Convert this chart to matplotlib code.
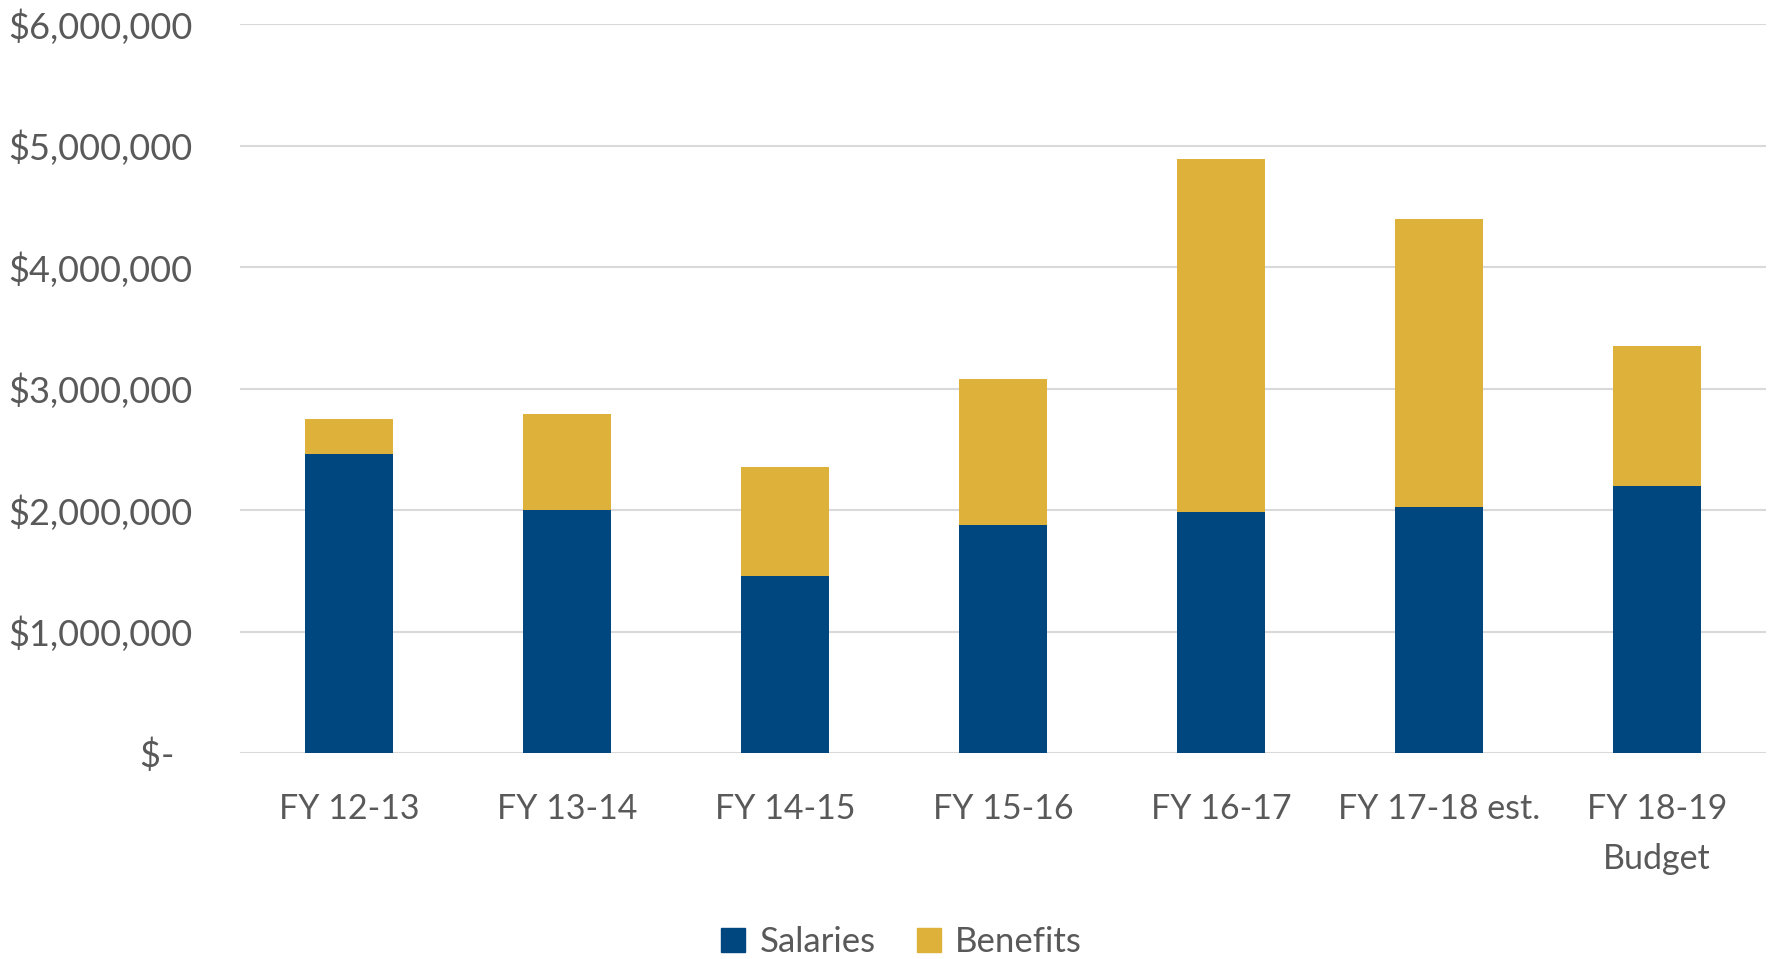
import matplotlib
matplotlib.use("Agg")
import matplotlib.pyplot as plt
from matplotlib.ticker import FixedLocator
from matplotlib.patches import Patch

categories = ["FY 12-13", "FY 13-14", "FY 14-15", "FY 15-16", "FY 16-17",
              "FY 17-18 est.", "FY 18-19\nBudget"]
salaries = [2462000, 2003000, 1456000, 1880000, 1984000, 2025000, 2200000]
totals = [2747000, 2794000, 2354000, 3077000, 4893000, 4393000, 3349000]
benefits = [t - s for t, s in zip(totals, salaries)]

yticks = [0, 1000000, 2000000, 3000000, 4000000, 5000000, 6000000]
ytick_labels = ["$-  ", "$1,000,000", "$2,000,000", "$3,000,000",
                "$4,000,000", "$5,000,000", "$6,000,000"]

navy = "#00467F"
gold = "#DDB13A"
text_color = "#595959"
grid_color = "#D9D9D9"

plt.rcParams['font.family'] = ['Lato', 'DejaVu Sans']

W, H = 1775, 959
fig = plt.figure(figsize=(W / 100, H / 100), dpi=100)
ax = fig.add_axes([240 / W, (H - 753) / H, (1766 - 240) / W, (753 - 24) / H])

x = list(range(len(categories)))
ax.bar(x, salaries, width=0.4, color=navy, label="Salaries", zorder=3)
ax.bar(x, benefits, width=0.4, bottom=salaries, color=gold, label="Benefits", zorder=3)

ax.set_xlim(-0.5, len(categories) - 0.5)
ax.set_ylim(0, 6000000)
ax.yaxis.set_major_locator(FixedLocator(yticks))
ax.set_yticklabels(ytick_labels)
ax.set_xticks(x)
ax.set_xticklabels(categories, linespacing=1.7)

for s in ax.spines.values():
    s.set_visible(False)
ax.grid(axis="y", color=grid_color, linewidth=1.5, zorder=0)
ax.set_axisbelow(True)
ax.tick_params(axis="both", length=0, colors=text_color)
ax.tick_params(axis="y", pad=34, labelsize=26)
ax.tick_params(axis="x", pad=29, labelsize=24.5)

handles = [Patch(color=navy, label="Salaries"), Patch(color=gold, label="Benefits")]
fig.legend(handles=handles, loc="center", bbox_to_anchor=(0.508, (H - 942) / H),
           ncol=2, frameon=False, fontsize=25, labelcolor=text_color,
           handlelength=0.7, handleheight=0.7, handletextpad=0.4, columnspacing=1.2)

fig.savefig("out.png", dpi=100, facecolor="white")
